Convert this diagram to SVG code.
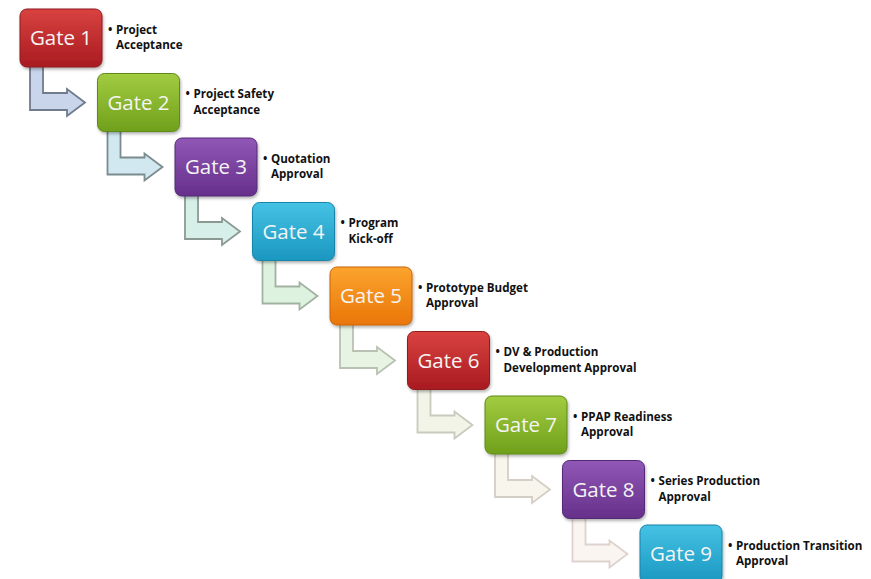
<svg xmlns="http://www.w3.org/2000/svg" xmlns:xlink="http://www.w3.org/1999/xlink" width="871" height="579" viewBox="0 0 871 579">
<style>
.box{stroke-width:1}
.gt{font-family:"Open Sans","Liberation Sans",sans-serif;font-size:20.5px;fill:#f4f4f4;text-anchor:middle}
.lb{font-family:"Open Sans","Liberation Sans",sans-serif;font-size:11.6px;font-weight:bold;fill:#111}
.arr{stroke-width:1.8;stroke-linejoin:miter}
</style>
<defs>
<linearGradient id="gRed" x1="0" y1="0" x2="0" y2="1"><stop offset="0" stop-color="#d9423f"/><stop offset="1" stop-color="#a81b21"/></linearGradient>
<linearGradient id="gGreen" x1="0" y1="0" x2="0" y2="1"><stop offset="0" stop-color="#a2cc40"/><stop offset="1" stop-color="#70a01c"/></linearGradient>
<linearGradient id="gPurple" x1="0" y1="0" x2="0" y2="1"><stop offset="0" stop-color="#9157b6"/><stop offset="1" stop-color="#65308a"/></linearGradient>
<linearGradient id="gCyan" x1="0" y1="0" x2="0" y2="1"><stop offset="0" stop-color="#45c2e4"/><stop offset="1" stop-color="#1b97c0"/></linearGradient>
<linearGradient id="gOrange" x1="0" y1="0" x2="0" y2="1"><stop offset="0" stop-color="#fba42e"/><stop offset="1" stop-color="#ea7608"/></linearGradient>
<filter id="sh" x="-10%" y="-10%" width="130%" height="130%"><feDropShadow dx="1" dy="2" stdDeviation="1.5" flood-color="#000" flood-opacity="0.3"/></filter>
<path id="arr" d="M10,56 H23 V84 H47 V80 L65,93.5 L47,107 V101 H10 Z"/>
<rect id="bx" x="0" y="0" width="82" height="58" rx="7"/>
</defs>
<rect width="871" height="579" fill="#ffffff"/>
<g id="connectors">
<use xlink:href="#arr" class="arr" transform="translate(20,9)" fill="#c8d5ea" stroke="#6f7c8c"/>
<use xlink:href="#arr" class="arr" transform="translate(97.5,73.5)" fill="#d1e8f1" stroke="#7b8b8e"/>
<use xlink:href="#arr" class="arr" transform="translate(175,138)" fill="#d6efe9" stroke="#8a9a92"/>
<use xlink:href="#arr" class="arr" transform="translate(252.5,202.5)" fill="#def3df" stroke="#a2b2a2"/>
<use xlink:href="#arr" class="arr" transform="translate(330,267)" fill="#e8f4e3" stroke="#b9c2b2"/>
<use xlink:href="#arr" class="arr" transform="translate(407.5,331.5)" fill="#f2f4e8" stroke="#c9cabd"/>
<use xlink:href="#arr" class="arr" transform="translate(485,396)" fill="#f8f5ec" stroke="#d5cec6"/>
<use xlink:href="#arr" class="arr" transform="translate(562.5,460.5)" fill="#fbf5f1" stroke="#ddd2ce"/>
</g>
<g id="gate1" transform="translate(20,9)"><use xlink:href="#bx" fill="url(#gRed)" stroke="#8e1a1e" filter="url(#sh)"/><text class="gt" x="41" y="36">Gate 1</text><text class="lb" x="88" y="24.5">• <tspan x="96">Project</tspan></text><text class="lb" x="96" y="40">Acceptance</text></g>
<g id="gate2" transform="translate(97.5,73.5)"><use xlink:href="#bx" fill="url(#gGreen)" stroke="#5e8a18" filter="url(#sh)"/><text class="gt" x="41" y="36">Gate 2</text><text class="lb" x="88" y="24.5">• <tspan x="96">Project Safety</tspan></text><text class="lb" x="96" y="40">Acceptance</text></g>
<g id="gate3" transform="translate(175,138)"><use xlink:href="#bx" fill="url(#gPurple)" stroke="#552876" filter="url(#sh)"/><text class="gt" x="41" y="36">Gate 3</text><text class="lb" x="88" y="24.5">• <tspan x="96">Quotation</tspan></text><text class="lb" x="96" y="40">Approval</text></g>
<g id="gate4" transform="translate(252.5,202.5)"><use xlink:href="#bx" fill="url(#gCyan)" stroke="#1784a8" filter="url(#sh)"/><text class="gt" x="41" y="36">Gate 4</text><text class="lb" x="88" y="24.5">• <tspan x="96">Program</tspan></text><text class="lb" x="96" y="40">Kick-off</text></g>
<g id="gate5" transform="translate(330,267)"><use xlink:href="#bx" fill="url(#gOrange)" stroke="#c96506" filter="url(#sh)"/><text class="gt" x="41" y="36">Gate 5</text><text class="lb" x="88" y="24.5">• <tspan x="96">Prototype Budget</tspan></text><text class="lb" x="96" y="40">Approval</text></g>
<g id="gate6" transform="translate(407.5,331.5)"><use xlink:href="#bx" fill="url(#gRed)" stroke="#8e1a1e" filter="url(#sh)"/><text class="gt" x="41" y="36">Gate 6</text><text class="lb" x="88" y="24.5">• <tspan x="96">DV &amp; Production</tspan></text><text class="lb" x="96" y="40">Development Approval</text></g>
<g id="gate7" transform="translate(485,396)"><use xlink:href="#bx" fill="url(#gGreen)" stroke="#5e8a18" filter="url(#sh)"/><text class="gt" x="41" y="36">Gate 7</text><text class="lb" x="88" y="24.5">• <tspan x="96">PPAP Readiness</tspan></text><text class="lb" x="96" y="40">Approval</text></g>
<g id="gate8" transform="translate(562.5,460.5)"><use xlink:href="#bx" fill="url(#gPurple)" stroke="#552876" filter="url(#sh)"/><text class="gt" x="41" y="36">Gate 8</text><text class="lb" x="88" y="24.5">• <tspan x="96">Series Production</tspan></text><text class="lb" x="96" y="40">Approval</text></g>
<g id="gate9" transform="translate(640,525)"><use xlink:href="#bx" fill="url(#gCyan)" stroke="#1784a8" filter="url(#sh)"/><text class="gt" x="41" y="36">Gate 9</text><text class="lb" x="88" y="24.5">• <tspan x="96">Production Transition</tspan></text><text class="lb" x="96" y="40">Approval</text></g>
</svg>
